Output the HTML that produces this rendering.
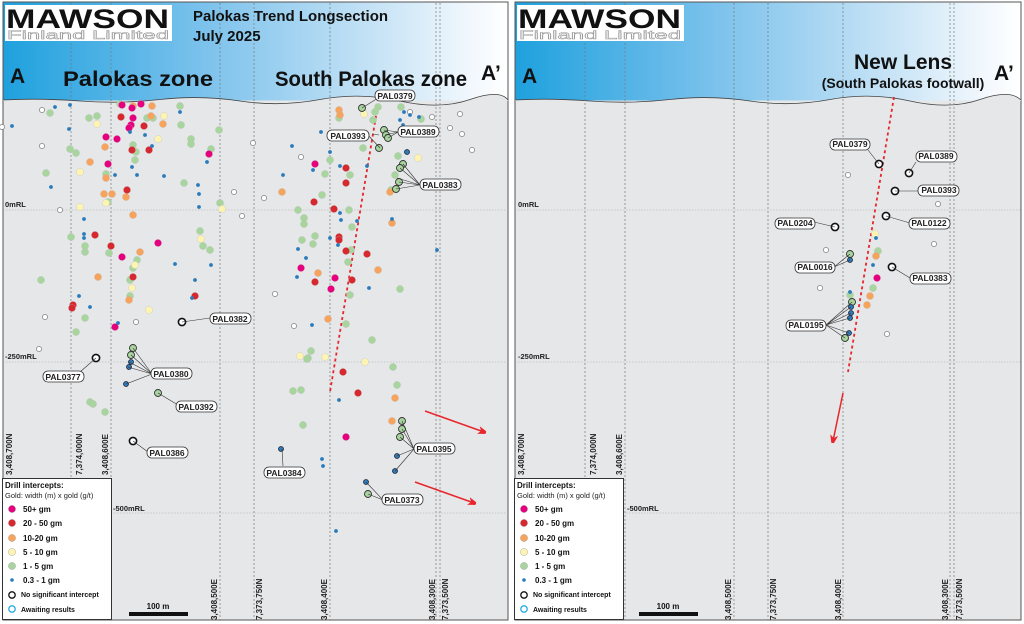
<!DOCTYPE html>
<html><head><meta charset="utf-8"><style>
html,body{margin:0;padding:0;background:#fff;}
svg{display:block;font-family:"Liberation Sans",sans-serif;}
.lbl{font-size:8.5px;font-weight:bold;fill:#222;}
.rot{font-size:8px;font-weight:bold;fill:#222;}
.rl{font-size:7.5px;font-weight:bold;fill:#222;}
.lg{font-size:8px;font-weight:bold;fill:#111;}
</style></head><body>
<svg id="s" width="1024" height="624" viewBox="0 0 1024 624" xmlns="http://www.w3.org/2000/svg">
<defs>
<linearGradient id="hg" x1="0" x2="1" y1="0" y2="0">
<stop offset="0" stop-color="#1fa1de"/><stop offset="0.4" stop-color="#7cc2ec"/><stop offset="0.75" stop-color="#c9e4f6"/><stop offset="0.93" stop-color="#f2f8fd"/><stop offset="1" stop-color="#ffffff"/>
</linearGradient>
<marker id="ah" markerWidth="8" markerHeight="8" refX="6" refY="4" orient="auto" markerUnits="userSpaceOnUse"><path d="M0,0 L12,4 L0,8 L3,4z" fill="#e8262b"/></marker>
</defs>
<rect width="1024" height="624" fill="#fff"/>
<!-- LEFT PANEL -->
<g id="L">
<rect x="3" y="2" width="505" height="618" fill="#e6e7e9" stroke="#555" stroke-width="1"/>
<rect x="3.5" y="2.5" width="504" height="98" fill="url(#hg)"/>
<path d="M3,100 Q40,98 80,101 T160,99.5 T240,101 T320,99.5 T400,101 T470,99.5 T508,100 L508,101 L3,101z" fill="#e6e7e9"/>
<path d="M3,100 Q40,98 80,101 T160,99.5 T240,101 T320,99.5 T400,101 T470,99.5 T508,100" fill="none" stroke="#444" stroke-width="0.8"/>
<g stroke="#777" stroke-width="0.7" stroke-dasharray="2,2">
<line x1="71" y1="3" x2="71" y2="620"/><line x1="111" y1="3" x2="111" y2="620"/><line x1="220" y1="3" x2="220" y2="620"/><line x1="254" y1="3" x2="254" y2="620"/><line x1="330" y1="3" x2="330" y2="620"/><line x1="436" y1="3" x2="436" y2="620"/><line x1="440" y1="3" x2="440" y2="620"/>
</g>
<g stroke="#aaa" stroke-width="0.6" stroke-dasharray="1.5,1.5">
<line x1="3" y1="210" x2="508" y2="210"/><line x1="3" y1="362" x2="508" y2="362"/><line x1="3" y1="513" x2="508" y2="513"/>
</g>
<text x="5" y="207" class="rl">0mRL</text><text x="5" y="359" class="rl">-250mRL</text><text x="113" y="511" class="rl">-500mRL</text>
<rect x="5" y="5" width="167" height="36" fill="#fff"/>
<text x="6" y="28" font-size="27" font-weight="bold" fill="#111" textLength="163" lengthAdjust="spacingAndGlyphs">MAWSON</text>
<text x="7" y="39" font-size="12" fill="#fff" stroke="#999" stroke-width="0.5" textLength="162" lengthAdjust="spacingAndGlyphs">Finland Limited</text>
<text x="193" y="21" font-size="15" font-weight="bold" fill="#111">Palokas Trend Longsection</text>
<text x="193" y="41" font-size="15" font-weight="bold" fill="#111">July 2025</text>
<text x="10" y="83" font-size="21" font-weight="bold" fill="#111">A</text>
<text x="63" y="86" font-size="21" font-weight="bold" fill="#111" textLength="150" lengthAdjust="spacingAndGlyphs">Palokas zone</text>
<text x="275" y="86" font-size="21" font-weight="bold" fill="#111" textLength="192" lengthAdjust="spacingAndGlyphs">South Palokas zone</text>
<text x="481" y="80" font-size="21" font-weight="bold" fill="#111">A’</text>
<line x1="378" y1="104" x2="330" y2="392" stroke="#e8262b" stroke-width="1.8" stroke-dasharray="3,3"/>
<line x1="425" y1="411" x2="484" y2="432" stroke="#e8262b" stroke-width="1.5" marker-end="url(#ah)"/>
<line x1="415" y1="482" x2="474" y2="503" stroke="#e8262b" stroke-width="1.5" marker-end="url(#ah)"/>
<g id="Ldots"></g>
<g stroke="#333" stroke-width="0.6" fill="none">
<path d="M378,98 L362,108"/><path d="M367,134 L380,148"/><path d="M372,134 L379,135"/><path d="M398,132 L385,135 M398,132 L384,130 M398,132 L388,138"/>
<path d="M420,185 L403,164 M420,185 L400,168 M420,185 L397,178 M420,185 L399,182 M420,185 L396,189"/>
<path d="M210,318 L182,322"/><path d="M80,372 L96,358"/><path d="M152,374 L133,348 M152,374 L131,355 M152,374 L129,362 M152,374 L128,367 M152,374 L126,384"/>
<path d="M178,405 L158,393"/><path d="M148,452 L133,441"/><path d="M283,466 L282,449"/>
<path d="M414,449 L402,421 M414,449 L402,429 M414,449 L400,437 M414,449 L397,456 M414,449 L395,471"/>
<path d="M383,500 L366,482 M383,500 L368,494"/>
</g>
<g fill="#fff" stroke="#333" stroke-width="0.8">
<rect x="375" y="90" width="40" height="11" rx="5"/><rect x="327" y="130" width="42" height="11" rx="5"/><rect x="398" y="126" width="41" height="11" rx="5"/><rect x="420" y="179" width="41" height="11" rx="5"/>
<rect x="210" y="313" width="41" height="11" rx="5"/><rect x="43" y="371" width="41" height="11" rx="5"/><rect x="151" y="368" width="41" height="11" rx="5"/><rect x="176" y="401" width="41" height="11" rx="5"/>
<rect x="147" y="447" width="41" height="11" rx="5"/><rect x="264" y="467" width="41" height="11" rx="5"/><rect x="414" y="443" width="41" height="11" rx="5"/><rect x="382" y="494" width="41" height="11" rx="5"/>
</g>
<g class="lbl" text-anchor="middle">
<text x="395" y="99" class="lbl">PAL0379</text><text x="348" y="139" class="lbl">PAL0393</text><text x="418" y="135" class="lbl">PAL0389</text><text x="440" y="188" class="lbl">PAL0383</text>
<text x="230" y="322" class="lbl">PAL0382</text><text x="63" y="380" class="lbl">PAL0377</text><text x="171" y="377" class="lbl">PAL0380</text><text x="196" y="410" class="lbl">PAL0392</text>
<text x="167" y="456" class="lbl">PAL0386</text><text x="284" y="476" class="lbl">PAL0384</text><text x="434" y="452" class="lbl">PAL0395</text><text x="402" y="503" class="lbl">PAL0373</text>
</g>
<g class="rot">
<text transform="translate(12,475) rotate(-90)">3,408,700N</text>
<text transform="translate(82,475) rotate(-90)">7,374,000N</text>
<text transform="translate(108,475) rotate(-90)">3,408,600E</text>
<text transform="translate(217,620) rotate(-90)">3,408,500E</text>
<text transform="translate(262,620) rotate(-90)">7,373,750N</text>
<text transform="translate(327,620) rotate(-90)">3,408,400E</text>
<text transform="translate(435,620) rotate(-90)">3,408,300E</text>
<text transform="translate(448,620) rotate(-90)">7,373,500N</text>
</g>
<rect x="129" y="612" width="59" height="4" fill="#111"/>
<text x="158" y="609" class="lg" text-anchor="middle">100 m</text>
<g id="leg">
<rect x="2.5" y="478.5" width="109" height="141" fill="#fff" stroke="#333" stroke-width="1"/>
<text x="5" y="488" class="lg">Drill intercepts:</text>
<text x="5" y="498" font-size="7.5" fill="#222">Gold: width (m) x gold (g/t)</text>
<circle cx="12" cy="509" r="3.6" fill="#e6007e" stroke="#999" stroke-width="0.4"/><text x="23" y="512" class="lg">50+ gm</text>
<circle cx="12" cy="523" r="3.6" fill="#d7282f" stroke="#999" stroke-width="0.4"/><text x="23" y="526" class="lg">20 - 50 gm</text>
<circle cx="12" cy="538" r="3.6" fill="#f7a35c" stroke="#999" stroke-width="0.4"/><text x="23" y="541" class="lg">10-20 gm</text>
<circle cx="12" cy="552" r="3.6" fill="#fdf4b2" stroke="#999" stroke-width="0.4"/><text x="23" y="555" class="lg">5 - 10 gm</text>
<circle cx="12" cy="566" r="3.6" fill="#a7d59d" stroke="#999" stroke-width="0.4"/><text x="23" y="569" class="lg">1 - 5 gm</text>
<circle cx="12" cy="580" r="1.8" fill="#2b7bbb"/><text x="23" y="583" class="lg">0.3 - 1 gm</text>
<circle cx="12" cy="595" r="3.2" fill="#fff" stroke="#111" stroke-width="1.3"/><text x="21" y="597" font-size="7" font-weight="bold" fill="#111">No significant intercept</text>
<circle cx="12" cy="609" r="3.2" fill="#fff" stroke="#2aa8e0" stroke-width="1.3"/><text x="21" y="612" font-size="7" font-weight="bold" fill="#111">Awaiting results</text>
</g>
</g>
<!-- RIGHT PANEL -->
<g id="R">
<rect x="515" y="2" width="506" height="618" fill="#e6e7e9" stroke="#555" stroke-width="1"/>
<rect x="515.5" y="2.5" width="505" height="98" fill="url(#hg)"/>
<path d="M515,100 Q550,98 590,101 T670,99.5 T750,101 T830,99.5 T910,101 T980,99.5 T1021,100 L1021,101 L515,101z" fill="#e6e7e9"/>
<path d="M515,100 Q550,98 590,101 T670,99.5 T750,101 T830,99.5 T910,101 T980,99.5 T1021,100" fill="none" stroke="#444" stroke-width="0.8"/>
<g stroke="#777" stroke-width="0.7" stroke-dasharray="2,2">
<line x1="585" y1="3" x2="585" y2="620"/><line x1="625" y1="3" x2="625" y2="620"/><line x1="734" y1="3" x2="734" y2="620"/><line x1="768" y1="3" x2="768" y2="620"/><line x1="843" y1="3" x2="843" y2="620"/><line x1="950" y1="3" x2="950" y2="620"/><line x1="954" y1="3" x2="954" y2="620"/>
</g>
<g stroke="#aaa" stroke-width="0.6" stroke-dasharray="1.5,1.5">
<line x1="515" y1="210" x2="1021" y2="210"/><line x1="515" y1="362" x2="1021" y2="362"/><line x1="515" y1="513" x2="1021" y2="513"/>
</g>
<text x="518" y="207" class="rl">0mRL</text><text x="518" y="359" class="rl">-250mRL</text><text x="627" y="511" class="rl">-500mRL</text>
<rect x="517" y="5" width="167" height="36" fill="#fff"/>
<text x="518" y="28" font-size="27" font-weight="bold" fill="#111" textLength="163" lengthAdjust="spacingAndGlyphs">MAWSON</text>
<text x="519" y="39" font-size="12" fill="#fff" stroke="#999" stroke-width="0.5" textLength="162" lengthAdjust="spacingAndGlyphs">Finland Limited</text>
<text x="522" y="83" font-size="21" font-weight="bold" fill="#111">A</text>
<text x="903" y="69" font-size="21" font-weight="bold" fill="#111" text-anchor="middle">New Lens</text>
<text x="903" y="88" font-size="14" font-weight="bold" fill="#111" text-anchor="middle">(South Palokas footwall)</text>
<text x="994" y="80" font-size="21" font-weight="bold" fill="#111">A’</text>
<line x1="894" y1="97" x2="848" y2="372" stroke="#e8262b" stroke-width="1.8" stroke-dasharray="3,3"/>
<line x1="843" y1="393" x2="833" y2="441" stroke="#e8262b" stroke-width="1.5" marker-end="url(#ah)"/>
<g id="Rdots"></g>
<g stroke="#333" stroke-width="0.6" fill="none">
<path d="M868,150 L879,164"/><path d="M916,162 L909,173"/><path d="M918,191 L895,191"/><path d="M910,223 L886,216"/><path d="M814,222 L835,227"/>
<path d="M834,267 L850,254 M834,267 L850,260"/><path d="M910,278 L892,267"/>
<path d="M826,325 L852,302 M826,325 L851,307 M826,325 L851,313 M826,325 L850,318 M826,325 L849,333 M826,325 L845,338"/>
</g>
<g fill="#fff" stroke="#333" stroke-width="0.8">
<rect x="830" y="139" width="40" height="11" rx="5"/><rect x="916" y="151" width="41" height="11" rx="5"/><rect x="918" y="185" width="41" height="11" rx="5"/><rect x="909" y="218" width="41" height="11" rx="5"/>
<rect x="775" y="218" width="40" height="11" rx="5"/><rect x="795" y="262" width="40" height="11" rx="5"/><rect x="910" y="273" width="41" height="11" rx="5"/><rect x="786" y="320" width="40" height="11" rx="5"/>
</g>
<g text-anchor="middle">
<text x="850" y="147" class="lbl">PAL0379</text><text x="936" y="159" class="lbl">PAL0389</text><text x="939" y="193" class="lbl">PAL0393</text><text x="929" y="226" class="lbl">PAL0122</text>
<text x="795" y="226" class="lbl">PAL0204</text><text x="815" y="270" class="lbl">PAL0016</text><text x="930" y="281" class="lbl">PAL0383</text><text x="806" y="328" class="lbl">PAL0195</text>
</g>
<g class="rot">
<text transform="translate(524,475) rotate(-90)">3,408,700N</text>
<text transform="translate(596,475) rotate(-90)">7,374,000N</text>
<text transform="translate(622,475) rotate(-90)">3,408,600E</text>
<text transform="translate(731,620) rotate(-90)">3,408,500E</text>
<text transform="translate(776,620) rotate(-90)">7,373,750N</text>
<text transform="translate(841,620) rotate(-90)">3,408,400E</text>
<text transform="translate(948,620) rotate(-90)">3,408,300E</text>
<text transform="translate(962,620) rotate(-90)">7,373,500N</text>
</g>
<rect x="639" y="612" width="59" height="4" fill="#111"/>
<text x="668" y="609" class="lg" text-anchor="middle">100 m</text>
<g transform="translate(512,0)">
<rect x="2.5" y="478.5" width="109" height="141" fill="#fff" stroke="#333" stroke-width="1"/>
<text x="5" y="488" class="lg">Drill intercepts:</text>
<text x="5" y="498" font-size="7.5" fill="#222">Gold: width (m) x gold (g/t)</text>
<circle cx="12" cy="509" r="3.6" fill="#e6007e" stroke="#999" stroke-width="0.4"/><text x="23" y="512" class="lg">50+ gm</text>
<circle cx="12" cy="523" r="3.6" fill="#d7282f" stroke="#999" stroke-width="0.4"/><text x="23" y="526" class="lg">20 - 50 gm</text>
<circle cx="12" cy="538" r="3.6" fill="#f7a35c" stroke="#999" stroke-width="0.4"/><text x="23" y="541" class="lg">10-20 gm</text>
<circle cx="12" cy="552" r="3.6" fill="#fdf4b2" stroke="#999" stroke-width="0.4"/><text x="23" y="555" class="lg">5 - 10 gm</text>
<circle cx="12" cy="566" r="3.6" fill="#a7d59d" stroke="#999" stroke-width="0.4"/><text x="23" y="569" class="lg">1 - 5 gm</text>
<circle cx="12" cy="580" r="1.8" fill="#2b7bbb"/><text x="23" y="583" class="lg">0.3 - 1 gm</text>
<circle cx="12" cy="595" r="3.2" fill="#fff" stroke="#111" stroke-width="1.3"/><text x="21" y="597" font-size="7" font-weight="bold" fill="#111">No significant intercept</text>
<circle cx="12" cy="609" r="3.2" fill="#fff" stroke="#2aa8e0" stroke-width="1.3"/><text x="21" y="612" font-size="7" font-weight="bold" fill="#111">Awaiting results</text>
</g>
</g>
</svg>
<script>
var C={m:"#e6007e",r:"#d7282f",o:"#f7a35c",y:"#fdf4b2",g:"#a7d59d"};
var L={
w:[[42,110],[2,127],[42,146],[253,143],[301,157],[234,192],[264,198],[60,210],[410,112],[432,117],[460,114],[450,128],[462,134],[472,150],[242,216],[45,317],[136,322],[275,294],[294,326],[39,349]],
g:[[50,113],[120,104],[180,106],[97,116],[89,118],[147,118],[153,118],[181,125],[219,130],[191,139],[191,144],[46,173],[70,149],[76,153],[211,149],[133,145],[136,152],[135,160],[106,174],[184,183],[108,202],[220,203],[330,160],[325,174],[350,175],[322,195],[339,118],[378,107],[375,112],[373,120],[363,148],[401,107],[421,119],[398,156],[395,175],[391,190],[71,237],[85,246],[85,252],[109,253],[137,260],[133,268],[130,280],[130,296],[200,231],[203,246],[210,250],[41,280],[85,318],[76,332],[90,402],[93,404],[105,412],[298,210],[304,218],[304,224],[302,240],[315,236],[313,244],[349,210],[352,227],[351,250],[348,262],[350,295],[346,324],[311,351],[308,358],[307,359],[400,289],[393,367],[372,340],[293,391],[301,390],[397,385],[303,425]],
y:[[97,124],[164,116],[158,139],[80,172],[106,203],[80,207],[364,114],[418,158],[222,209],[201,239],[135,265],[132,288],[149,310],[300,356],[325,357],[365,362]],
o:[[133,106],[152,106],[151,116],[163,124],[105,147],[90,162],[106,178],[104,194],[112,194],[126,197],[282,192],[339,110],[340,115],[390,192],[133,215],[140,252],[98,277],[129,300],[318,273],[328,319],[378,270],[392,223],[395,398],[392,421]],
m:[[122,105],[132,108],[141,104],[133,118],[131,125],[129,128],[106,137],[117,139],[209,154],[108,164],[315,164],[122,257],[158,243],[115,327],[301,268],[335,278],[331,289],[346,437]],
r:[[121,117],[144,126],[132,150],[149,150],[127,190],[346,168],[346,183],[314,202],[334,209],[95,235],[111,246],[133,277],[73,305],[72,308],[195,296],[339,237],[346,251],[339,240],[367,254],[352,280],[315,282],[343,372],[358,393]],
b:[[55,107],[70,105],[12,126],[69,129],[130,132],[145,135],[152,146],[132,167],[51,187],[115,175],[137,175],[164,176],[199,194],[199,207],[207,162],[198,185],[180,112],[321,132],[292,146],[313,170],[340,166],[283,175],[404,112],[400,120],[410,115],[403,125],[419,117],[385,135],[330,152],[367,166],[84,219],[84,234],[84,238],[79,296],[90,307],[175,264],[211,265],[195,280],[192,298],[298,249],[306,258],[297,277],[312,325],[330,238],[340,213],[341,220],[357,221],[369,288],[392,219],[437,250],[339,400],[338,245],[118,323],[322,459],[323,466],[336,531]],
ol:[[379,148],[384,130],[386,135],[388,138],[403,164],[400,168],[399,182],[396,189],[133,348],[131,355],[158,393],[402,421],[402,429],[400,437],[368,494],[362,108]],
ob:[[131,362],[129,367],[126,384],[397,456],[395,471],[366,482],[281,449],[407,152]],
bk:[[182,322],[96,358],[133,441]]
};
var R={
w:[[848,175],[938,204],[826,250],[934,244],[820,288],[887,334]],
y:[[875,234]],g:[[878,251],[873,288],[850,295]],o:[[876,256],[870,296],[867,305]],m:[[877,278]],
b:[[876,238],[873,265],[850,292]],
ol:[[850,254],[852,302],[845,338]],ob:[[850,260],[851,307],[851,313],[850,318],[849,333]],
bk:[[879,164],[909,173],[895,191],[886,216],[835,227],[892,267]]
};
function draw(D,id){
 var g=document.getElementById(id),h="";
 function c(x,y,r,f,s,sw){h+='<circle cx="'+x+'" cy="'+y+'" r="'+r+'" fill="'+f+'" stroke="'+s+'" stroke-width="'+sw+'"/>';}
 (D.w||[]).forEach(p=>c(p[0],p[1],2.6,"#fff","#666",0.6));
 ["g","y","o","r","m"].forEach(k=>(D[k]||[]).forEach(p=>c(p[0],p[1],3.6,C[k],"#bbb",0.3)));
 (D.b||[]).forEach(p=>c(p[0],p[1],1.9,"#2b7bbb","none",0));
 (D.ol||[]).forEach(p=>c(p[0],p[1],3.5,"#a7d59d","#333",0.9));
 (D.ob||[]).forEach(p=>c(p[0],p[1],2.5,"#2b7bbb","#223",0.8));
 (D.bk||[]).forEach(p=>c(p[0],p[1],3.6,"#fff","#111",1.6));
 g.innerHTML=h;
}
draw(L,"Ldots");draw(R,"Rdots");
</script>
</body></html>
